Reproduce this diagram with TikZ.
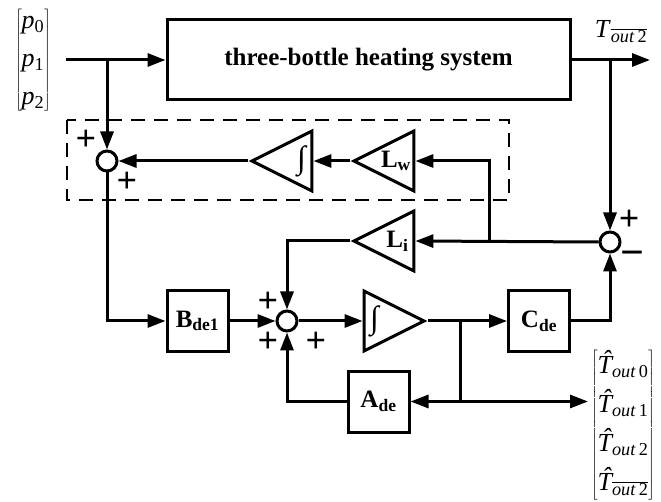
\RequirePackage{fix-cm}
\documentclass[tikz,border=0pt]{standalone}
\usepackage{fontspec}
\setmainfont{Liberation Serif}
\usetikzlibrary{arrows.meta,shapes.geometric}
\newcommand{\ovl}[1]{$\overline{\mbox{#1}}$}
\newcommand{\That}{{\itshape\accent"02C6 T}}
\newcommand{\integ}{{\fontsize{32}{32}\selectfont\mdseries\char"222B}}
\begin{document}
\begin{tikzpicture}[x=1pt,y=-1pt,line width=3pt,
  block/.style={draw,minimum width=61pt,minimum height=61pt,inner sep=0pt,
                font=\fontsize{25}{30}\selectfont\bfseries},
  tri/.style={draw,isosceles triangle,isosceles triangle stretches,
              minimum width=60pt,minimum height=60pt,inner sep=0pt,
              font=\fontsize{25}{30}\selectfont\bfseries},
  sumc/.style={draw,circle,minimum size=20pt,inner sep=0pt},
  edge/.style={-{Triangle[length=18pt,width=13pt]}},
  sign/.style={font=\fontsize{36}{36}\selectfont\bfseries,inner sep=0pt},
  vec/.style={inner sep=0pt,font=\fontsize{26}{31}\selectfont},
  frame/.style={line width=2.5pt,dash pattern=on 14pt off 9pt}
]
  \useasboundingbox (0,0) rectangle (661,502);

  \draw[frame] (67,120) rectangle (509,200);

  \node[vec] (pin) at (33,60)
    {$\left[\begin{array}{@{}c@{}}
      \mbox{\textit{p}\textsubscript{0}}\\[7pt]
      \mbox{\textit{p}\textsubscript{1}}\\[7pt]
      \mbox{\textit{p}\textsubscript{2}}
    \end{array}\right]$};
  \node[draw,minimum width=403pt,minimum height=80pt,inner sep=0pt,
        font=\fontsize{25}{30}\selectfont\bfseries] (plant) at (368.5,60)
    {three-bottle heating system};
  \node[vec,font=\fontsize{26}{31}\selectfont] (tlab) at (621,32)
    {\textit{T}\textsubscript{\ovl{\textit{out}\,2}}};

  \node[sumc] (s1) at (107,161) {};
  \node[tri,shape border rotate=180,anchor=apex] (intw) at (248,161) {\integ};
  \node[tri,shape border rotate=180,anchor=apex] (lw) at (350,161)
    {L\textsubscript{w}};
  \node[tri,shape border rotate=180,anchor=apex] (li) at (350,241)
    {L\textsubscript{i}};
  \node[sumc] (s2) at (610,242) {};

  \node[block] (bde) at (197.5,321) {B\textsubscript{de1}};
  \node[sumc] (s3) at (287,321) {};
  \node[tri,anchor=apex] (intm) at (428,321) {\integ};
  \node[block] (cde) at (539,321) {C\textsubscript{de}};
  \node[block] (ade) at (378.5,401.5) {A\textsubscript{de}};

  \node[vec,font=\fontsize{26}{30}\selectfont] (tvec) at (623,425)
    {$\left[\begin{array}{@{}c@{}}
      \mbox{\That\textsubscript{\textit{out}\,0}}\\[7pt]
      \mbox{\That\textsubscript{\textit{out}\,1}}\\[7pt]
      \mbox{\That\textsubscript{\textit{out}\,2}}\\[7pt]
      \mbox{\That\textsubscript{\ovl{\textit{out}\,2}}}
    \end{array}\right]$};

  \node[sign] (p1) at (86,140) {+};
  \node[sign] (p2) at (127,182) {+};
  \node[sign] (p3) at (268,302) {+};
  \node[sign] (p4) at (268,342) {+};
  \node[sign] (p5) at (316,342) {+};
  \node[sign] (p6) at (629,220) {+};
  \node[sign,font=\fontsize{42}{42}\selectfont\bfseries] (m1) at (632,259)
    {\char"2212};

  \coordinate (in) at (66,60);
  \coordinate (j1) at (107,60);
  \coordinate (j2) at (610,60);
  \coordinate (out) at (650,60);
  \coordinate (j3) at (489,242);
  \coordinate (j4) at (460,321);
  \coordinate (j5) at (460,401.5);
  \coordinate (est) at (588,401.5);

  \draw[edge] (in) -- (plant.west);
  \draw[edge] (j1) -- (s1.north);
  \draw[edge] (plant.east) -- (out);
  \draw[edge] (j2) -- (s2.north);
  \draw[edge] (s2.west) -- (li.lower side);
  \draw[edge] (j3) |- (lw.lower side);
  \draw[edge] (lw.apex) -- (intw.lower side);
  \draw[edge] (intw.apex) -- (s1.east);
  \draw[edge] (s1.south) |- (bde.west);
  \draw[edge] (bde.east) -- (s3.west);
  \draw[edge] (li.apex) -| (s3.north);
  \draw[edge] (s3.east) -- (intm.lower side);
  \draw[edge] (intm.apex) -- (cde.west);
  \draw (j4) -- (j5);
  \draw[edge] (j5) -- (ade.east);
  \draw[edge] (j5) -- (est);
  \draw[edge] (cde.east) -| (s2.south);
  \draw[edge] (ade.west) -| (s3.south);
\end{tikzpicture}
\end{document}
